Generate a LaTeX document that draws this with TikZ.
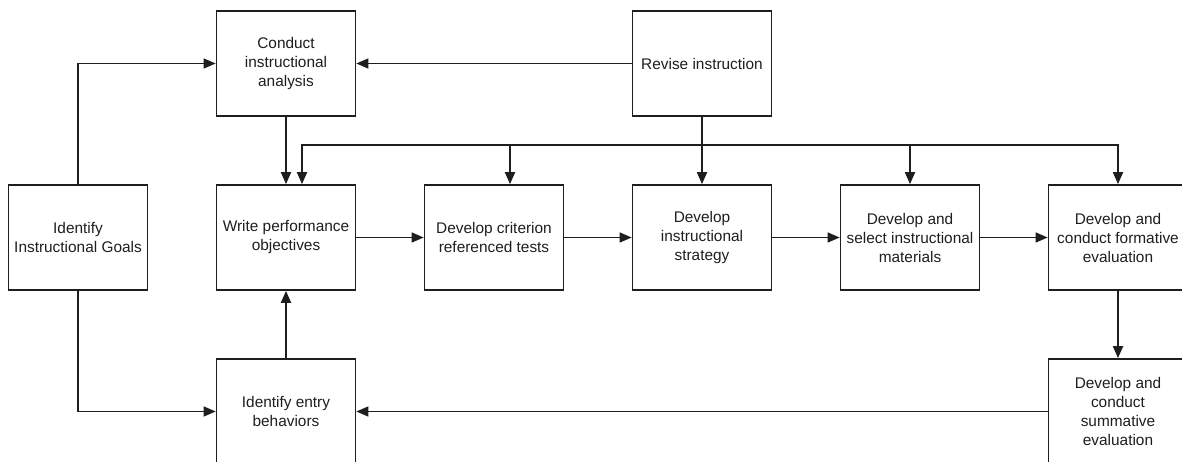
\documentclass[tikz,border=0pt]{standalone}
\usepackage{fontspec}
\setmainfont{Liberation Sans}
\usetikzlibrary{arrows.meta}

\definecolor{ink}{HTML}{1E1E1E}

\tikzset{
  stepbox/.style={draw=ink, text=ink, line width=1.7pt, minimum width=139pt,
    minimum height=105pt, inner sep=0pt, align=center,
    font=\fontsize{15.4}{19}\selectfont},
  link/.style={draw=ink, line width=1.9pt, -{Triangle[length=12pt,width=10pt]}},
  thinlink/.style={link, line width=1.4pt},
  buslink/.style={link, {Triangle[length=12pt,width=10pt]}-{Triangle[length=12pt,width=10pt]}},
}

\begin{document}
\begin{tikzpicture}[x=1pt,y=-1pt]
      \useasboundingbox (0,0) rectangle (1182,462);
      \clip (0,0) rectangle (1182,462);

      \node[stepbox] (goals) at (78,237.5) {Identify\\Instructional Goals};
      \node[stepbox] (analysis) at (286,63.5) {Conduct\\instructional\\analysis};
      \node[stepbox] (revise) at (702,63.5) {Revise instruction};
      \node[stepbox] (objectives) at (286,237.5) {Write performance\\objectives};
      \node[stepbox] (tests) at (494,237.5) {Develop criterion\\referenced tests};
      \node[stepbox] (strategy) at (702,237.5) {Develop\\instructional\\strategy};
      \node[stepbox] (materials) at (910,237.5) {Develop and\\select instructional\\materials};
      \node[stepbox] (formative) at (1118,237.5) {Develop and\\conduct formative\\evaluation};
      \node[stepbox] (entry) at (286,411.5) {Identify entry\\behaviors};
      \node[stepbox] (summative) at (1118,411.5) {Develop and\\conduct\\summative\\evaluation};

      % feedback bus from revise instruction
      \coordinate (busL) at (302,145);
      \coordinate (busT) at (510,145);
      \coordinate (busR) at (1118,145);
      \draw[buslink] (busL |- objectives.north) -- (busL) -- (busR) -- (formative.north);
      \draw[link] (busT) -- (busT |- tests.north);
      \draw[link] (materials.north |- busL) -- (materials.north);
      \draw[link] (revise.south) -- (strategy.north);

      \draw[thinlink] (goals.north) |- (analysis.west);
      \draw[thinlink] (goals.south) |- (entry.west);
      \draw[thinlink] (revise.west) -- (analysis.east);
      \draw[link] (analysis.south) -- (objectives.north);
      \draw[link] (entry.north) -- (objectives.south);

      \draw[thinlink] (objectives.east) -- (tests.west);
      \draw[thinlink] (tests.east) -- (strategy.west);
      \draw[thinlink] (strategy.east) -- (materials.west);
      \draw[thinlink] (materials.east) -- (formative.west);
      \draw[link] (formative.south) -- (summative.north);
      \draw[thinlink] (summative.west) -- (entry.east);
    \end{tikzpicture}
\end{document}
